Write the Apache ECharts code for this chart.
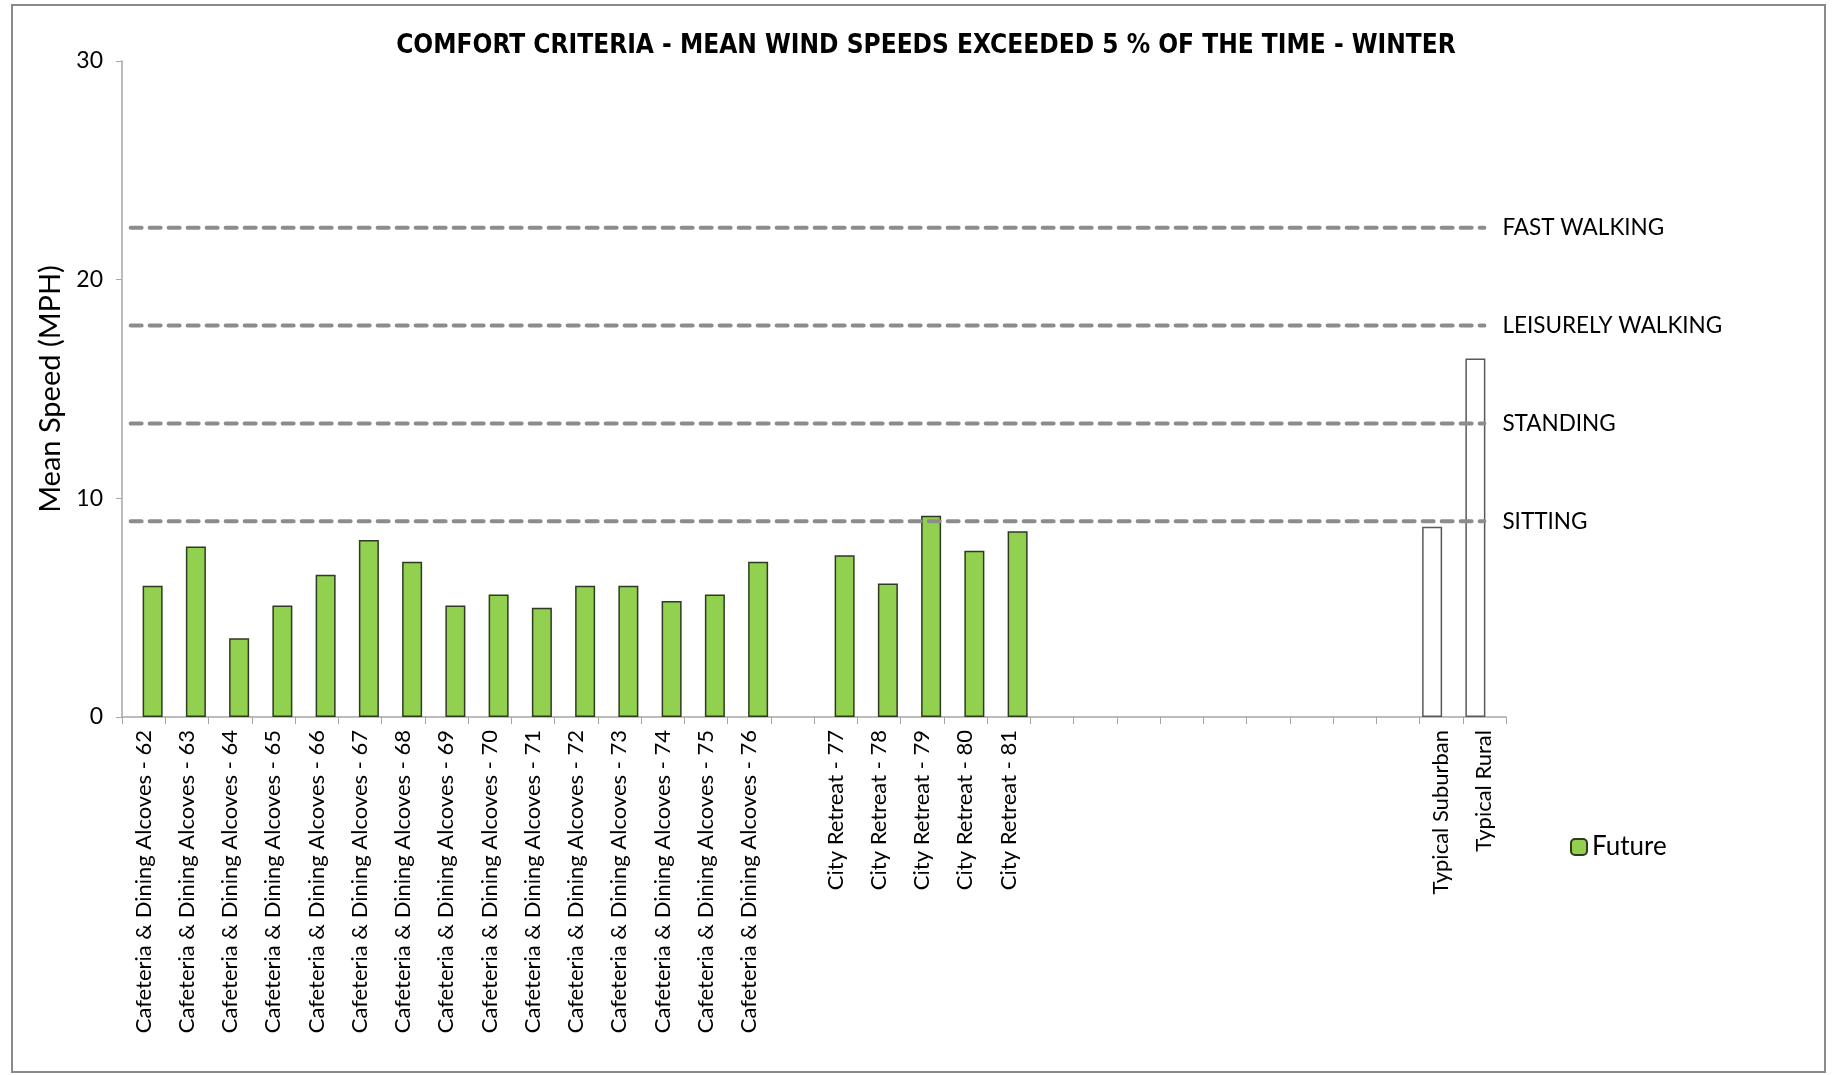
<!DOCTYPE html>
<html>
<head>
<meta charset="utf-8">
<title>Comfort criteria - winter</title>
<script src="https://cdn.jsdelivr.net/npm/echarts@6/dist/echarts.min.js"></script>
<style>
    html, body { margin: 0; padding: 0; background: #fff; }
    #chart { width: 1837px; height: 1075px; }
</style>
</head>
<body>
<div id="chart"></div>
<script>
    // 类别 (x 轴), 空字符串是图中的空位
    const categories = [
        'Cafeteria & Dining Alcoves - 62', 'Cafeteria & Dining Alcoves - 63', 'Cafeteria & Dining Alcoves - 64',
        'Cafeteria & Dining Alcoves - 65', 'Cafeteria & Dining Alcoves - 66', 'Cafeteria & Dining Alcoves - 67',
        'Cafeteria & Dining Alcoves - 68', 'Cafeteria & Dining Alcoves - 69', 'Cafeteria & Dining Alcoves - 70',
        'Cafeteria & Dining Alcoves - 71', 'Cafeteria & Dining Alcoves - 72', 'Cafeteria & Dining Alcoves - 73',
        'Cafeteria & Dining Alcoves - 74', 'Cafeteria & Dining Alcoves - 75', 'Cafeteria & Dining Alcoves - 76',
        '',
        'City Retreat - 77', 'City Retreat - 78', 'City Retreat - 79', 'City Retreat - 80', 'City Retreat - 81',
        '', '', '', '', '', '', '', '', '',
        'Typical Suburban', 'Typical Rural'
    ];

    // Future 数据 (MPH)
    const futureValues = [
        6.0, 7.8, 3.6, 5.1, 6.5, 8.1, 7.1, 5.1, 5.6, 5.0, 6.0, 6.0, 5.3, 5.6, 7.1,
        null,
        7.4, 6.1, 9.2, 7.6, 8.5,
        null, null, null, null, null, null, null, null, null,
        null, null
    ];

    // 参考值 (白色柱)
    const typicalValues = [
        null, null, null, null, null, null, null, null, null, null, null, null, null, null, null,
        null,
        null, null, null, null, null,
        null, null, null, null, null, null, null, null, null,
        8.7, 16.4
    ];

    // 舒适度阈值线
    const criteriaNames = ['SITTING', 'STANDING', 'LEISURELY WALKING', 'FAST WALKING'];
    const criteriaValues = [8.95, 13.42, 17.9, 22.37];
    // 阈值线在辅助 x 轴上的起止 (0 ~ 32 对应整个绘图区)
    const criteriaFromTo = [0.2, 31.5];

    const yTicks = { min: 0, max: 30, interval: 10 };

    const bodyFont = 'Lato, "Open Sans", sans-serif';

    let chart = echarts.init(document.getElementById('chart'));

    let criteriaSeries = criteriaNames.map(function (name, i) {
        return {
            name: name,
            type: 'line',
            xAxisIndex: 1,
            yAxisIndex: 0,
            symbol: 'none',
            silent: true,
            z: 5,
            lineStyle: { color: '#8c8c8c', width: 4, type: [11, 8], cap: 'round' },
            endLabel: {
                show: true,
                formatter: '{a}',
                distance: 18,
                color: '#000',
                fontFamily: bodyFont,
                fontSize: 22.5
            },
            data: [[criteriaFromTo[0], criteriaValues[i]], [criteriaFromTo[1], criteriaValues[i]]]
        };
    });

    let option = {
        backgroundColor: '#fff',
        animation: false,
        title: {
            text: 'COMFORT CRITERIA - MEAN WIND SPEEDS EXCEEDED 5 % OF THE TIME - WINTER',
            left: 921,
            textAlign: 'center',
            top: 28,
            textStyle: {
                fontFamily: '"Liberation Sans Narrow", "DejaVu Sans Condensed", Lato, sans-serif',
                fontWeight: 'bold',
                fontSize: 26,
                color: '#000'
            }
        },
        legend: {
            data: ['Future'],
            left: 1565,
            top: 829,
            itemWidth: 16,
            itemHeight: 16,
            itemGap: 8,
            textStyle: { fontFamily: bodyFont, fontSize: 26, color: '#000' }
        },
        grid: { left: 122, right: 331, top: 61, bottom: 358 },
        xAxis: [
            {
                type: 'category',
                data: categories,
                axisLine: { lineStyle: { color: '#a6a6a6', width: 1.5 } },
                axisTick: { show: true, alignWithLabel: false, interval: 0, length: 7, lineStyle: { color: '#a6a6a6' } },
                axisLabel: {
                    interval: 0,
                    rotate: 90,
                    margin: 13,
                    color: '#000',
                    fontFamily: bodyFont,
                    fontSize: 22
                }
            },
            {
                type: 'value',
                min: 0,
                max: 32,
                show: false
            }
        ],
        yAxis: {
            type: 'value',
            min: yTicks.min,
            max: yTicks.max,
            interval: yTicks.interval,
            name: 'Mean Speed (MPH)',
            nameLocation: 'middle',
            nameGap: 55,
            nameTextStyle: { fontFamily: bodyFont, fontSize: 29, color: '#000' },
            axisLine: { show: true, lineStyle: { color: '#a6a6a6', width: 1.5 } },
            axisTick: { show: true, length: 6, lineStyle: { color: '#a6a6a6' } },
            axisLabel: { margin: 19, color: '#000', fontFamily: bodyFont, fontSize: 23 },
            splitLine: { show: false }
        },
        series: [
            {
                // 白色柱在每组左侧, 绿色柱在右侧
                name: 'Typical',
                type: 'bar',
                barWidth: 20,
                barGap: '-10%',
                itemStyle: { color: '#fff', borderColor: '#595959', borderWidth: 1.5 },
                data: typicalValues
            },
            {
                name: 'Future',
                type: 'bar',
                barWidth: 20,
                barGap: '-10%',
                itemStyle: { color: '#92d050', borderColor: '#2f3a22', borderWidth: 1.5 },
                data: futureValues
            }
        ].concat(criteriaSeries),
        graphic: [
            {
                // 外框
                type: 'rect',
                shape: { x: 12, y: 5, width: 1813, height: 1067 },
                style: { fill: 'none', stroke: '#8a8a8a', lineWidth: 2 },
                silent: true
            }
        ]
    };
    chart.setOption(option);

    window.addEventListener('resize', function () { chart.resize() });
</script>
</body>
</html>
